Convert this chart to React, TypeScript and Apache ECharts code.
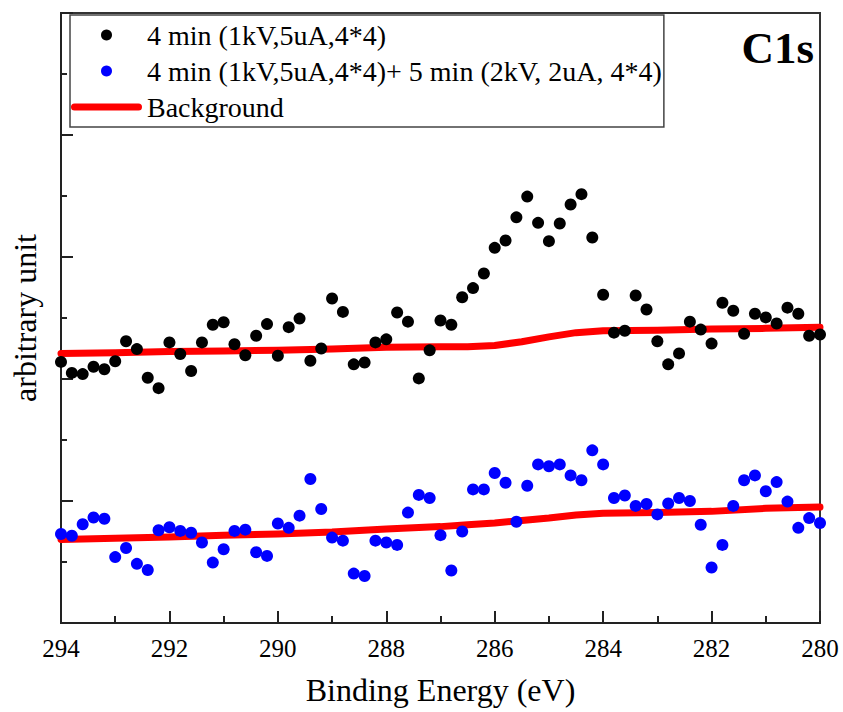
import React, { useEffect, useRef } from 'react';
import * as echarts from 'echarts';

// Binding energies of the measured points (eV)
const energies = [
  294.0, 293.8, 293.6, 293.4, 293.2, 293.0, 292.8, 292.6, 292.4, 292.2,
  292.0, 291.8, 291.6, 291.4, 291.2, 291.0, 290.8, 290.6, 290.4, 290.2,
  290.0, 289.8, 289.6, 289.4, 289.2, 289.0, 288.8, 288.6, 288.4, 288.2,
  288.0, 287.8, 287.6, 287.4, 287.2, 287.0, 286.8, 286.6, 286.4, 286.2,
  286.0, 285.8, 285.6, 285.4, 285.2, 285.0, 284.8, 284.6, 284.4, 284.2,
  284.0, 283.8, 283.6, 283.4, 283.2, 283.0, 282.8, 282.6, 282.4, 282.2,
  282.0, 281.8, 281.6, 281.4, 281.2, 281.0, 280.8, 280.6, 280.4, 280.2, 280.0,
];

// 4 min (1kV,5uA,4*4)
const sampleA = [
  4.28, 4.10, 4.08, 4.20, 4.16, 4.29, 4.62, 4.49, 4.02, 3.85,
  4.60, 4.41, 4.13, 4.60, 4.89, 4.93, 4.57, 4.39, 4.71, 4.90,
  4.38, 4.85, 4.99, 4.30, 4.50, 5.32, 5.10, 4.24, 4.27, 4.60,
  4.65, 5.09, 4.94, 4.01, 4.47, 4.96, 4.89, 5.34, 5.49, 5.73,
  6.15, 6.27, 6.65, 6.99, 6.56, 6.26, 6.55, 6.86, 7.03, 6.32,
  5.38, 4.76, 4.79, 5.37, 5.14, 4.62, 4.24, 4.42, 4.94, 4.81,
  4.58, 5.25, 5.12, 4.74, 5.07, 5.01, 4.91, 5.17, 5.07, 4.71, 4.73,
];

// 4 min (1kV,5uA,4*4)+ 5 min (2kV, 2uA, 4*4)
const sampleB = [
  1.46, 1.43, 1.62, 1.73, 1.71, 1.08, 1.23, 0.97, 0.87, 1.52,
  1.57, 1.51, 1.48, 1.32, 0.99, 1.21, 1.51, 1.53, 1.16, 1.10,
  1.63, 1.56, 1.76, 2.36, 1.87, 1.40, 1.35, 0.81, 0.77, 1.35,
  1.32, 1.28, 1.81, 2.10, 2.05, 1.44, 0.86, 1.50, 2.19, 2.19,
  2.46, 2.30, 1.66, 2.25, 2.60, 2.57, 2.60, 2.42, 2.34, 2.83,
  2.60, 2.05, 2.09, 1.92, 1.95, 1.78, 1.96, 2.05, 2.00, 1.61,
  0.91, 1.28, 1.92, 2.34, 2.42, 2.16, 2.31, 1.99, 1.56, 1.72, 1.64,
];

// Background curves
const bgEnergy = [294, 293, 292, 291, 290, 289, 288, 287, 286.5, 286, 285.5, 285, 284.5, 284, 283, 282, 281, 280];
const bgUpper = [4.42, 4.43, 4.45, 4.46, 4.47, 4.49, 4.52, 4.53, 4.53, 4.55, 4.61, 4.69, 4.76, 4.79, 4.80, 4.82, 4.83, 4.85];
const bgLower = [1.37, 1.39, 1.41, 1.44, 1.46, 1.49, 1.54, 1.58, 1.61, 1.64, 1.68, 1.72, 1.77, 1.80, 1.81, 1.83, 1.88, 1.90];

const nameA = '4 min (1kV,5uA,4*4)';
const nameB = '4 min (1kV,5uA,4*4)+ 5 min (2kV, 2uA, 4*4)';
const nameBg = 'Background';
const peakLabel = 'C1s';
const xTitle = 'Binding Energy (eV)';
const yTitle = 'arbitrary unit';

export default function App() {
  const ref = useRef<HTMLDivElement>(null);
  useEffect(() => {
    document.body.style.margin = '0';
    const chart = echarts.init(ref.current as HTMLDivElement, null, { renderer: 'svg' });
    const font = 'Liberation Serif';
    const axisColor = '#222';
    chart.setOption({
      animation: false,
      backgroundColor: '#ffffff',
      textStyle: { fontFamily: font },
      grid: {
        left: 61,
        right: 23,
        top: 13,
        bottom: 89,
        containLabel: false,
        outerBoundsMode: 'none',
        show: true,
        borderColor: '#333',
        borderWidth: 2,
      },
      legend: {
        orient: 'vertical',
        left: 70,
        top: 15,
        itemWidth: 71,
        itemHeight: 11,
        itemGap: 8,
        padding: [6, 2, 6, 1],
        borderColor: '#444',
        borderWidth: 1.5,
        selectedMode: false,
        textStyle: { fontFamily: font, fontSize: 28, color: '#000' },
        data: [
          { name: nameA, icon: 'circle' },
          { name: nameB, icon: 'circle' },
          { name: nameBg, icon: 'path://M3.5,0 L67.5,0 A3.5,3.5 0 0 1 67.5,7 L3.5,7 A3.5,3.5 0 0 1 3.5,0 Z' },
        ],
      },
      xAxis: {
        type: 'value',
        min: 280,
        max: 294,
        interval: 2,
        inverse: true,
        name: xTitle,
        nameLocation: 'middle',
        nameGap: 51,
        nameTextStyle: { fontFamily: font, fontSize: 32, color: '#000' },
        axisLine: { show: true, lineStyle: { color: axisColor, width: 2 } },
        axisTick: { show: true, inside: true, length: 12, lineStyle: { color: axisColor, width: 2 } },
        minorTick: { show: true, splitNumber: 2, length: 7, lineStyle: { color: axisColor, width: 2 } },
        axisLabel: { fontFamily: font, fontSize: 25, color: '#000', margin: 13 },
        splitLine: { show: false },
      },
      yAxis: {
        type: 'value',
        min: 0,
        max: 10,
        interval: 2,
        name: yTitle,
        nameLocation: 'middle',
        nameGap: 20,
        nameTextStyle: { fontFamily: font, fontSize: 32, color: '#000' },
        axisLine: { show: true, lineStyle: { color: axisColor, width: 2 } },
        axisTick: { show: true, inside: true, length: 12, lineStyle: { color: axisColor, width: 2 } },
        minorTick: { show: true, splitNumber: 2, length: 6, lineStyle: { color: axisColor, width: 2 } },
        axisLabel: { show: false },
        splitLine: { show: false },
      },
      graphic: [
        {
          type: 'text',
          x: 814,
          y: 48,
          z: 10,
          silent: true,
          style: {
            text: peakLabel,
            font: 'bold 45px "Liberation Serif"',
            fill: '#000',
            align: 'right',
            verticalAlign: 'middle',
          },
        },
      ],
      series: [
        {
          name: nameBg,
          type: 'line',
          data: bgEnergy.map((e, i) => [e, bgUpper[i]]),
          showSymbol: false,
          symbol: 'none',
          lineStyle: { color: '#ff0000', width: 7, cap: 'round', join: 'round' },
          itemStyle: { color: '#ff0000' },
          z: 2,
        },
        {
          name: nameBg,
          type: 'line',
          data: bgEnergy.map((e, i) => [e, bgLower[i]]),
          showSymbol: false,
          symbol: 'none',
          lineStyle: { color: '#ff0000', width: 7, cap: 'round', join: 'round' },
          itemStyle: { color: '#ff0000' },
          z: 2,
        },
        {
          name: nameA,
          type: 'scatter',
          data: energies.map((e, i) => [e, sampleA[i]]),
          symbolSize: 12,
          itemStyle: { color: '#000000', opacity: 1 },
          z: 3,
        },
        {
          name: nameB,
          type: 'scatter',
          data: energies.map((e, i) => [e, sampleB[i]]),
          symbolSize: 12,
          itemStyle: { color: '#0000ff', opacity: 1 },
          z: 3,
        },
      ],
    });
    return () => chart.dispose();
  }, []);
  return (
    <div
      ref={ref}
      style={{ position: 'absolute', left: 0, top: 0, width: 843, height: 712, background: '#fff' }}
    />
  );
}
